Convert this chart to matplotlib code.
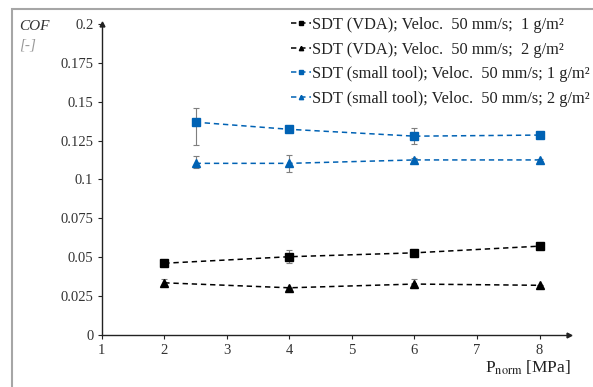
import matplotlib
matplotlib.use("Agg")
import matplotlib.pyplot as plt
from matplotlib.patches import Rectangle

plt.rcParams['font.family'] = ['Liberation Serif', 'DejaVu Serif']
plt.rcParams['mathtext.fontset'] = 'stix'

# Data
x_vda = [2, 4, 6, 8]
vda_1 = [0.0460, 0.0502, 0.0527, 0.0570]
vda_1_err_lo = [0.0, 0.0042, 0.0012, 0.0]
vda_1_err_hi = [0.0, 0.0043, 0.0012, 0.0]
vda_2 = [0.0334, 0.0302, 0.0326, 0.0318]
vda_2_err_lo = [0.0015, 0.0, 0.0025, 0.0]
vda_2_err_hi = [0.0022, 0.0, 0.0030, 0.0]

x_small = [2.5, 4, 6, 8]
small_1 = [0.1368, 0.1322, 0.1278, 0.1285]
small_1_err_lo = [0.0148, 0.0012, 0.0052, 0.0008]
small_1_err_hi = [0.0093, 0.0012, 0.0050, 0.0008]
small_2 = [0.1103, 0.1103, 0.1125, 0.1125]
small_2_err_lo = [0.0032, 0.0058, 0.0010, 0.0008]
small_2_err_hi = [0.0050, 0.0052, 0.0010, 0.0008]

labels = ["SDT (VDA); Veloc.  50 mm/s;  1 g/m²",
          "SDT (VDA); Veloc.  50 mm/s;  2 g/m²",
          "SDT (small tool); Veloc.  50 mm/s; 1 g/m²",
          "SDT (small tool); Veloc.  50 mm/s; 2 g/m²"]
y_ticks = [0, 0.025, 0.05, 0.075, 0.1, 0.125, 0.15, 0.175, 0.2]
y_ticklabels = ["0", "0.025", "0.05", "0.075", "0.1", "0.125", "0.15", "0.175", "0.2"]
x_ticks = [1, 2, 3, 4, 5, 6, 7, 8]

W, H = 593, 387
fig = plt.figure(figsize=(W / 100, H / 100), dpi=100)
ax = fig.add_axes([101.7 / W, 1 - 334.7 / H, (569 - 101.7) / W, (334.7 - 24) / H])

blue = '#0062B4'
series = [
    (x_vda, vda_1, vda_1_err_lo, vda_1_err_hi, 'black', 's', labels[0]),
    (x_vda, vda_2, vda_2_err_lo, vda_2_err_hi, 'black', '^', labels[1]),
    (x_small, small_1, small_1_err_lo, small_1_err_hi, blue, 's', labels[2]),
    (x_small, small_2, small_2_err_lo, small_2_err_hi, blue, '^', labels[3]),
]
handles = []
for xs, ys, lo, hi, col, mk, lab in series:
    ax.errorbar(xs, ys, yerr=[lo, hi], fmt='none', ecolor='#7f7f7f',
                elinewidth=0.8, capsize=2, capthick=0.8, zorder=2)
    h, = ax.plot(xs, ys, linestyle=(0, (3.5, 2.5)), lw=1.1, color=col,
                 marker=mk, ms=5.2, mec=col, mfc=col, label=lab, zorder=3)
    handles.append(h)

ax.set_xlim(1, 8.47)
ax.set_ylim(0, 0.2)
ax.set_yticks(y_ticks)
ax.set_yticklabels(y_ticklabels)
ax.set_xticks(x_ticks)
ax.spines['top'].set_visible(False)
ax.spines['right'].set_visible(False)
for s in ['left', 'bottom']:
    ax.spines[s].set_linewidth(1.0)
    ax.spines[s].set_color('#222222')
ax.tick_params(axis='both', direction='out', length=3, width=0.8,
               colors='#222222', labelsize=10.5, labelcolor='#333333')
ax.tick_params(axis='x', pad=4)
ax.tick_params(axis='y', pad=3)

# arrows at axis ends
ax.plot(0, 1, marker='^', ms=3.5, color='#222222', transform=ax.transAxes, clip_on=False)
ax.plot(1, 0, marker='>', ms=3.5, color='#222222', transform=ax.transAxes, clip_on=False)

# axis labels
fig.text(571 / W, 1 - 368 / H, r'P$_{\mathrm{norm}}$ [MPa]', ha='right', va='center',
         fontsize=12.5, color='#222222')
fig.text(19 / W, 1 - 26 / H, 'COF', ha='left', va='center', fontsize=11,
         style='italic', color='#333333')
fig.text(19 / W, 1 - 45 / H, '[-]', ha='left', va='center', fontsize=11,
         style='italic', color='#999999')

leg = fig.legend(handles=handles, loc='upper left',
                 bbox_to_anchor=(291 / W, 1 - 17 / H), frameon=False,
                 fontsize=11.8, handlelength=1.2, handletextpad=0.1,
                 labelspacing=0.52, borderpad=0, borderaxespad=0,
                 markerscale=0.6)
for t in leg.get_texts():
    t.set_color('#222222')

# figure frame (clipped at right/bottom)
fig.patches.append(Rectangle((12 / W, -0.1), 1.2, 0.1 + (1 - 9.5 / H),
                             transform=fig.transFigure, fill=False,
                             edgecolor='#a6a6a6', lw=1.5))

fig.savefig('out.png', dpi=100)
